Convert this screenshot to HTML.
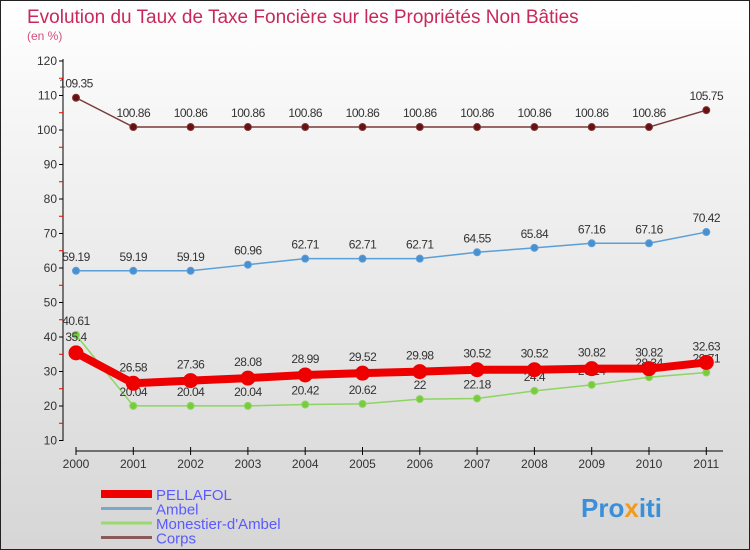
<!DOCTYPE html>
<html><head><meta charset="utf-8"><style>
body{margin:0}
#c{width:748px;height:548px;border:1px solid #222;background:linear-gradient(#fff,#f2f2f2 30%,#d6d6d6);position:relative;font-family:"Liberation Sans",sans-serif;overflow:hidden}
</style></head><body>
<div id="c">
<svg id="s" width="748" height="548" style="position:absolute;left:0;top:0">
<text x="26" y="22" font-size="19" fill="#c8285a">Evolution du Taux de Taxe Foncière sur les Propriétés Non Bâties</text>
<text x="26" y="39" font-size="12" fill="#d0507a">(en %)</text>
<g id="g"></g>
<text x="580" y="516" font-size="26" font-weight="bold" fill="#3a8fd8">Pro<tspan fill="#f39a1c">x</tspan>iti</text>
</svg>
</div>
<script>
const years=["2000","2001","2002","2003","2004","2005","2006","2007","2008","2009","2010","2011"];
const yTicks=[10,20,30,40,50,60,70,80,90,100,110,120];
const pellafol=[35.4,26.58,27.36,28.08,28.99,29.52,29.98,30.52,30.52,30.82,30.82,32.63];
const ambel=[59.19,59.19,59.19,60.96,62.71,62.71,62.71,64.55,65.84,67.16,67.16,70.42];
const monestier=[40.61,20.04,20.04,20.04,20.42,20.62,22,22.18,24.4,26.14,28.34,29.71];
const corps=[109.35,100.86,100.86,100.86,100.86,100.86,100.86,100.86,100.86,100.86,100.86,105.75];
const NS="http://www.w3.org/2000/svg",g=document.getElementById('g');
const X=i=>75+i*57.3, Y=v=>439.5-(v-10)*3.45;
function mk(t,a,p){const e=document.createElementNS(NS,t);for(const k in a)e.setAttribute(k,a[k]);(p||g).appendChild(e);return e;}
let e=mk('line',{x1:62,y1:58,x2:62,y2:440,stroke:'#000'});


e=mk('line',{x1:75,y1:450,x2:722,y2:450,stroke:'#000'});


yTicks.forEach(v=>{mk('line',{x1:58,x2:62,y1:Y(v),y2:Y(v),stroke:'#000'});
if(v<120)mk('line',{x1:58,x2:62,y1:Y(v+5),y2:Y(v+5),stroke:'#e00'});
const t=mk('text',{x:56,y:Y(v)+4,'font-size':12,'text-anchor':'end',fill:'#333'});t.textContent=v;

});
years.forEach((y,i)=>{mk('line',{x1:X(i),x2:X(i),y1:446,y2:454,stroke:'#000'});
const t=mk('text',{x:X(i),y:467,'font-size':12,'text-anchor':'middle',fill:'#333'});t.textContent=y;

});
function series(d,col,w,r,name,dot,lblOff){
const p=mk('polyline',{points:d.map((v,i)=>X(i)+','+Y(v)).join(' '),fill:'none',stroke:col,'stroke-width':w,'stroke-linejoin':'round'});


d.forEach((v,i)=>{const c=mk('circle',{cx:X(i),cy:Y(v),r:r,fill:dot,stroke:col,'stroke-width':1});


const t=mk('text',{x:X(i),y:Y(v)+lblOff,'font-size':12,'text-anchor':'middle',fill:'#333','letter-spacing':'-0.5'});t.textContent=v;

});}
series(corps,'#7a3a3a',1.5,3.5,'corps','#6a1010',-10);
series(ambel,'#5a9fd8',1.5,3.5,'ambel','#4a90d0',-10);
series(monestier,'#8ed464',1.5,3.5,'monestier','#7acb3c',-10);
series(pellafol,'#e00',8,7,'pellafol','#e00',-12);
const leg=[['PELLAFOL','#e00',8],['Ambel','#7aa8cc',3],["Monestier-d'Ambel",'#9ad870',3],['Corps','#8a5a5a',3]];
leg.forEach((l,i)=>{const y=493+i*14.5;
const a=mk('line',{x1:100,x2:151,y1:y,y2:y,stroke:l[1],'stroke-width':l[2]});


const t=mk('text',{x:155,y:y+6,'font-size':15,fill:'#5a5aff'});t.textContent=l[0];

});
</script>
</body></html>
